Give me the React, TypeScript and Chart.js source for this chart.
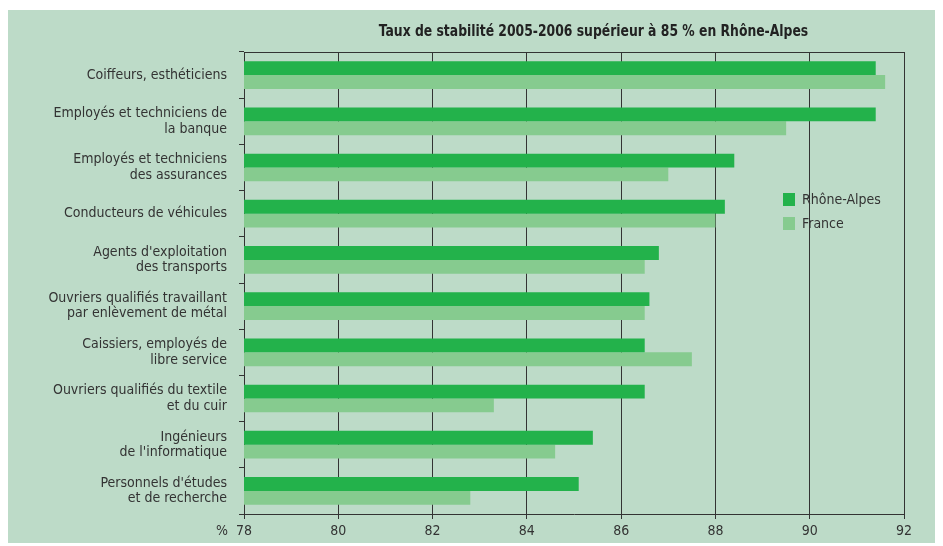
import React, { useEffect, useRef } from "react";
import { Chart, registerables } from "chart.js";

Chart.register(...registerables);

const categories: (string | string[])[] = [
  "Coiffeurs, esthéticiens",
  ["Employés et techniciens de", "la banque"],
  ["Employés et techniciens", "des assurances"],
  "Conducteurs de véhicules",
  ["Agents d'exploitation", "des transports"],
  ["Ouvriers qualifiés travaillant", "par enlèvement de métal"],
  ["Caissiers, employés de", "libre service"],
  ["Ouvriers qualifiés du textile", "et du cuir"],
  ["Ingénieurs", "de l'informatique"],
  ["Personnels d'études", "et de recherche"],
];

const rhoneAlpes = [91.4, 91.4, 88.4, 88.2, 86.8, 86.6, 86.5, 86.5, 85.4, 85.1];
const france = [91.6, 89.5, 87.0, 88.0, 86.5, 86.5, 87.5, 83.3, 84.6, 82.8];

const seriesNames = ["Rhône-Alpes", "France"];
const titleText = "Taux de stabilité 2005-2006 supérieur à 85 % en Rhône-Alpes";
const axisUnit = "%";
const xMin = 78;
const xMax = 92;
const xStep = 2;

const FONT = "'Liberation Sans Narrow', 'DejaVu Sans Condensed', 'Arial Narrow', sans-serif";
const TEXT = "#333333";
const LINE = "#333333";
const DARK = "#23b24b";
const LIGHT = "#86cb8f";
const BG = "#bddbc8";

export default function App() {
  const ref = useRef<HTMLCanvasElement | null>(null);

  useEffect(() => {
    if (!ref.current) return;

    const decor = {
      id: "decor",
      beforeDatasetsDraw(chart: any) {
        const { ctx, chartArea } = chart;
        ctx.save();
        ctx.strokeStyle = LINE;
        ctx.lineWidth = 1;
        ctx.beginPath();
        ctx.moveTo(chartArea.left, chartArea.top + 0.5);
        ctx.lineTo(chartArea.right, chartArea.top + 0.5);
        ctx.stroke();
        ctx.restore();
      },
      afterDraw(chart: any) {
        const { ctx, chartArea } = chart;
        ctx.save();
        // title
        ctx.save();
        ctx.fillStyle = "#222222";
        ctx.font = `bold 16px ${FONT}`;
        ctx.textAlign = "center";
        ctx.textBaseline = "middle";
        ctx.translate((chartArea.left + chart.width) / 2, 22);
        ctx.scale(0.86, 1);
        ctx.fillText(titleText, 0, 0);
        ctx.restore();
        // unit label
        ctx.textAlign = "center";
        ctx.textBaseline = "middle";
        ctx.font = `14px ${FONT}`;
        ctx.fillStyle = TEXT;
        ctx.fillText(axisUnit, chartArea.left - 22, chartArea.bottom + 17);
        // legend
        const lx = chartArea.right - 121;
        const ly = chartArea.top + 141;
        chart.data.datasets.forEach((ds: any, i: number) => {
          const y = ly + i * 24;
          ctx.fillStyle = ds.backgroundColor;
          ctx.fillRect(lx, y, 12, 13);
          ctx.fillStyle = TEXT;
          ctx.textAlign = "left";
          ctx.fillText(ds.label, lx + 19, y + 7);
        });
        ctx.restore();
      },
    };

    const chart = new Chart(ref.current, {
      type: "bar",
      data: {
        labels: categories,
        datasets: [
          {
            label: seriesNames[0],
            data: rhoneAlpes,
            backgroundColor: DARK,
            borderWidth: 0,
            barPercentage: 1,
            categoryPercentage: 0.6,
          },
          {
            label: seriesNames[1],
            data: france,
            backgroundColor: LIGHT,
            borderWidth: 0,
            barPercentage: 1,
            categoryPercentage: 0.6,
          },
        ],
      },
      options: {
        indexAxis: "y",
        animation: false,
        responsive: true,
        maintainAspectRatio: false,
        layout: { padding: { left: 0, right: 39, top: 42, bottom: 0 } },
        plugins: {
          legend: { display: false },
          tooltip: { enabled: false },
          title: { display: false },
        },
        scales: {
          x: {
            type: "linear",
            min: xMin,
            max: xMax,
            ticks: {
              stepSize: xStep,
              color: TEXT,
              font: { family: FONT, size: 14 },
              padding: 4,
            },
            grid: {
              color: LINE,
              lineWidth: 1,
              tickLength: 5,
              drawTicks: true,
            },
            border: { display: true, color: LINE, width: 1 },
            afterFit: (s: any) => {
              s.height = 31;
            },
          },
          y: {
            type: "category",
            ticks: {
              color: TEXT,
              font: { family: FONT, size: 14, lineHeight: 1.1 },
              padding: 12,
              autoSkip: false,
            },
            grid: {
              offset: true,
              drawOnChartArea: false,
              color: LINE,
              tickLength: 5,
            },
            border: { display: true, color: LINE, width: 1 },
            afterFit: (s: any) => {
              s.width = 236;
            },
          },
        },
      },
      plugins: [decor],
    });

    return () => chart.destroy();
  }, []);

  return (
    <div
      style={{
        position: "relative",
        top: 2,
        width: 935,
        height: 535,
        background: BG,
      }}
    >
      <canvas ref={ref} />
    </div>
  );
}
